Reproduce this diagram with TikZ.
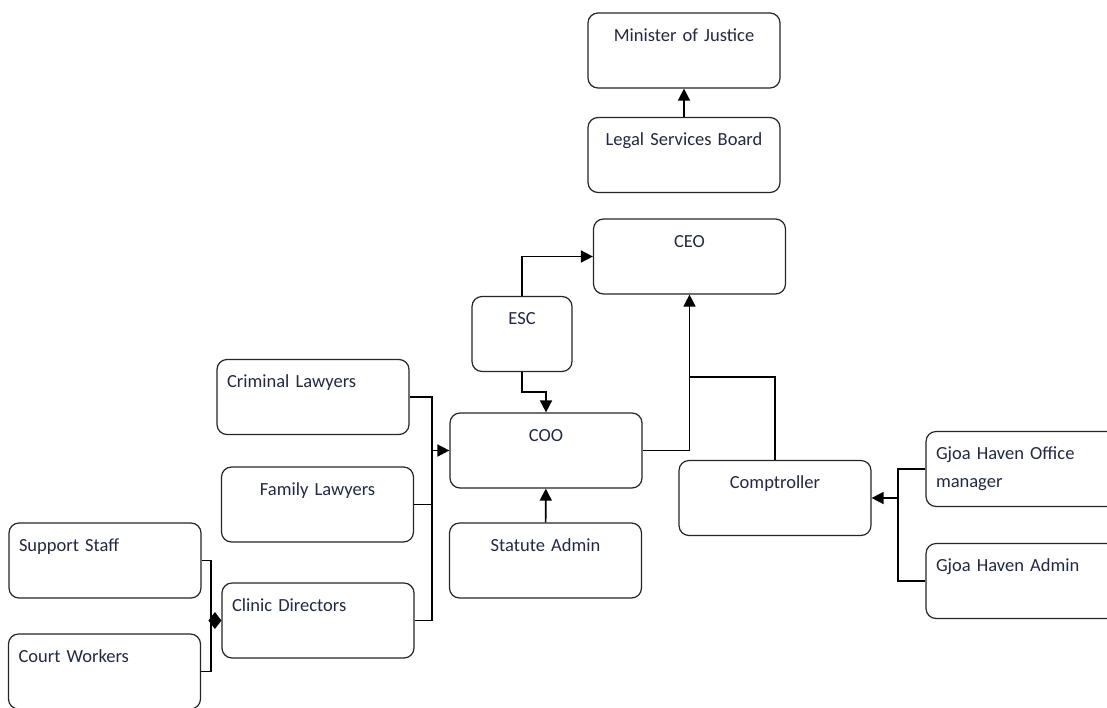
\documentclass[tikz,border=0pt]{standalone}
\usepackage{fontspec}
\setmainfont{Carlito}
\usetikzlibrary{arrows.meta}
\definecolor{boxtext}{RGB}{33,40,72}
\begin{document}
\begin{tikzpicture}[x=1pt,y=-1pt,
        unit/.style={draw=black!85,line width=1.2pt,rounded corners=10pt,
            text width=#1,inner xsep=10pt,inner ysep=9pt,
            text height=19pt,text depth=38pt,align=center,
            text=boxtext,font=\fontsize{18.5}{28}\selectfont},
        unit/.default=172pt,
        lunit/.style={unit,align=left},
        link/.style={line width=1.6pt},
        arrow/.style={link,-{Triangle[length=12pt,width=12pt]}}]
    \clip (0,0) rectangle (1107,707);
    \fill[white] (0,0) rectangle (1107,707);
    % boxes
    \node[unit] (moj) at (684,50.5) {Minister of Justice};
    \node[unit] (lsb) at (684,155) {Legal Services Board};
    \node[unit] (ceo) at (689.5,256.5) {CEO};
    \node[unit=80pt] (esc) at (522,334) {ESC};
    \node[unit] (coo) at (546,450.5) {COO};
    \node[unit] (statute) at (545.5,560.5) {Statute Admin};
    \node[unit] (comptroller) at (775,498) {Comptroller};
    \node[lunit] (criminal) at (313,397) {Criminal Lawyers};
    \node[unit] (family) at (317.5,504.5) {Family Lawyers};
    \node[lunit] (clinic) at (318,620.5) {Clinic Directors};
    \node[lunit] (support) at (105,560.5) {Support Staff};
    \node[lunit] (court) at (104.5,671.5) {Court Workers};
    \node[lunit] (gjoaoffice) at (1022,469) {Gjoa Haven Office\\manager};
    \node[lunit] (gjoaadmin) at (1022,581) {Gjoa Haven Admin};
    % junction points
    \coordinate (lbus) at (432,450.5);
    \coordinate (rbus) at (898,498);
    \coordinate (dbus) at (211,620.5);
    \coordinate (merge) at (689.5,377);
    % connectors
    \draw[arrow] (lsb) -- (moj);
    \draw[arrow] (esc.north) |- (ceo.west);
    \draw[arrow] (esc.south) -- ++(0,20) -| (coo.north);
    \draw[arrow] (coo.east) -| (ceo.south);
    \draw[link] (comptroller.north) |- (merge);
    \draw[arrow] (statute) -- (coo);
    \draw[link] (criminal.east) -| (lbus) |- (clinic.east);
    \draw[link] (family.east) -- (family.east -| lbus);
    \draw[arrow] (lbus) -- (coo.west);
    \draw[link] (gjoaoffice.west) -| (rbus) |- (gjoaadmin.west);
    \draw[arrow] (rbus) -- (comptroller.east);
    \draw[link] (support.east) -| (dbus) |- (court.east);
    \draw[link,-{Diamond[length=13pt,width=17pt]}] (dbus) -- (clinic.west);
\end{tikzpicture}
\end{document}
